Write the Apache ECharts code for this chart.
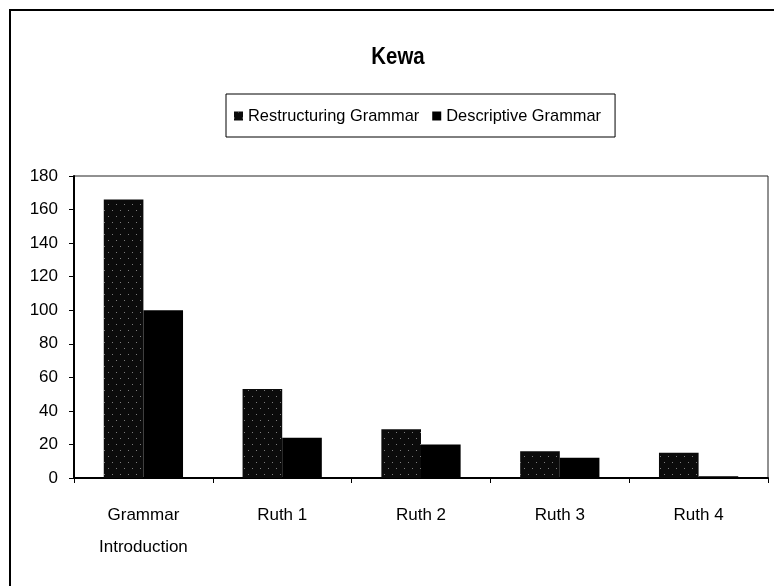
<!DOCTYPE html>
<html>
<head>
<meta charset="utf-8">
<script src="https://cdn.jsdelivr.net/npm/echarts@6/dist/echarts.min.js"></script>
<style>html,body{margin:0;padding:0;background:#fff}#c{width:774px;height:586px}</style>
</head>
<body>
<div id="c"></div>
<script>
var categories = ['Grammar\nIntroduction', 'Ruth 1', 'Ruth 2', 'Ruth 3', 'Ruth 4'];
var restructuring = [166, 53, 29, 16, 15];
var descriptive = [100, 24, 20, 12, 1];
var yTicks = {min: 0, max: 180, interval: 20};
var seriesNames = ['Restructuring Grammar', 'Descriptive Grammar'];

var FONT = "'Liberation Sans', Arial, sans-serif";
var chart = echarts.init(document.getElementById('c'), null, {renderer: 'canvas'});
var speckle = {
  symbol: 'rect', symbolSize: 1, color: 'rgba(200,200,200,0.6)',
  dashArrayX: [[1, 7], [0, 4, 1, 3]], dashArrayY: [1, 5], rotation: 0
};
chart.setOption({
  backgroundColor: '#fff',
  animation: false,
  textStyle: {fontFamily: FONT, color: '#000'},
  graphic: [
    {type: 'rect', shape: {x: 10, y: 10, width: 800, height: 600}, style: {fill: 'none', stroke: '#000', lineWidth: 2}, silent: true, z: -1},
    {type: 'text', x: 398, y: 45, scaleX: 0.85, style: {text: 'Kewa', fontFamily: FONT, fontWeight: 'bold', fontSize: 24, fill: '#000', textAlign: 'center', textVerticalAlign: 'top'}}
  ],
  legend: {
    left: 226, top: 94,
    padding: [14, 14, 13, 8],
    borderColor: '#000', borderWidth: 1,
    itemWidth: 9, itemHeight: 9, itemGap: 13,
    icon: 'rect',
    textStyle: {fontFamily: FONT, fontSize: 16.4, color: '#000'},
    data: seriesNames
  },
  grid: {left: 74, top: 176, right: 6, bottom: 108, show: true, borderColor: '#222', borderWidth: 1, containLabel: false},
  xAxis: {
    type: 'category', data: categories,
    axisLine: {lineStyle: {color: '#000', width: 2}},
    axisTick: {show: true, length: 5, lineStyle: {color: '#000', width: 1}},
    axisLabel: {fontFamily: FONT, fontSize: 17, color: '#000', margin: 21, lineHeight: 32}
  },
  yAxis: {
    type: 'value', min: yTicks.min, max: yTicks.max, interval: yTicks.interval,
    axisLine: {show: true, lineStyle: {color: '#000', width: 2}},
    axisTick: {show: true, length: 5, lineStyle: {color: '#000', width: 1}},
    splitLine: {show: false},
    axisLabel: {fontFamily: FONT, fontSize: 17, color: '#000', margin: 16}
  },
  series: [
    {name: seriesNames[0], type: 'bar', data: restructuring, barGap: '0%', barCategoryGap: '42.9%',
     itemStyle: {color: '#0b0b0b', decal: speckle}},
    {name: seriesNames[1], type: 'bar', data: descriptive, barGap: '0%', barCategoryGap: '42.9%',
     itemStyle: {color: '#000'}}
  ]
});
</script>
</body>
</html>
